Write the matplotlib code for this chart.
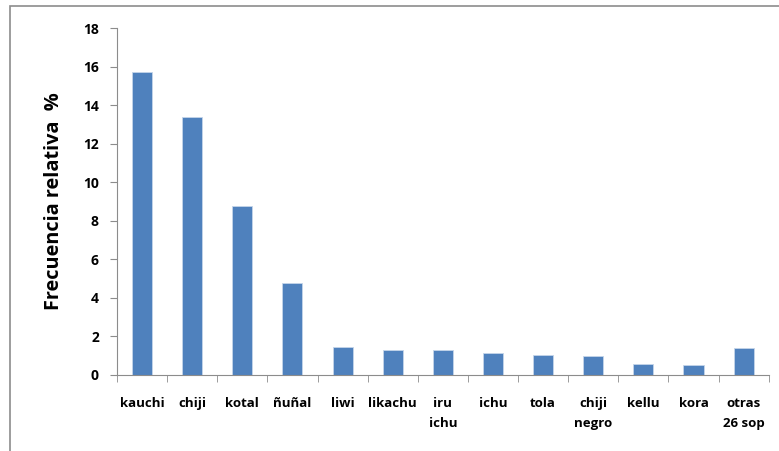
import matplotlib.pyplot as plt
import numpy as np
from matplotlib.patches import Rectangle

categories = ['kauchi', 'chiji', 'kotal', 'ñuñal', 'liwi', 'likachu', 'iru\nichu',
              'ichu', 'tola', 'chiji\nnegro', 'kellu', 'kora', 'otras\n26 sop']
values = [15.73, 13.36, 8.74, 4.74, 1.43, 1.27, 1.27, 1.12, 1.00, 0.94, 0.56, 0.51, 1.38]

plt.rcParams['font.family'] = ['Open Sans', 'DejaVu Sans']

fig = plt.figure(figsize=(7.79, 4.51), dpi=100)
ax = fig.add_axes([0.1502, 0.1696, 0.8366, 0.7683])

# outer chart frame
fig.patches.append(Rectangle((10 / 779, -0.1), 1.2, 1 - 6 / 451 + 0.1, transform=fig.transFigure,
                             fill=False, edgecolor='#8c8c8c', linewidth=1.2))

x = np.arange(len(categories))
ax.bar(x, values, width=0.4, color='#4F81BD', edgecolor='#c5d5ea', linewidth=0.6)

ax.set_xlim(-0.5, len(categories) - 0.5)
ax.set_ylim(0, 18)
ax.set_yticks(range(0, 19, 2))
ax.set_xticks(x)
ax.set_xticklabels(categories, fontsize=9.5, fontweight='bold', linespacing=1.75, va='top')
ax.set_xticks(np.arange(-0.5, len(categories)), minor=True)
ax.tick_params(axis='x', which='major', length=0, pad=16)
ax.tick_params(axis='x', which='minor', length=5, color='#8c8c8c', direction='out')
ax.tick_params(axis='y', length=5, color='#8c8c8c', labelsize=10, pad=8)
for lab in ax.get_yticklabels():
    lab.set_fontweight('bold')

for side in ['top', 'right']:
    ax.spines[side].set_visible(False)
for side in ['left', 'bottom']:
    ax.spines[side].set_color('#8c8c8c')

ax.set_ylabel('Frecuencia relativa  %', fontsize=14.3, fontweight='bold', labelpad=14)

fig.savefig('out.png', dpi=100)
